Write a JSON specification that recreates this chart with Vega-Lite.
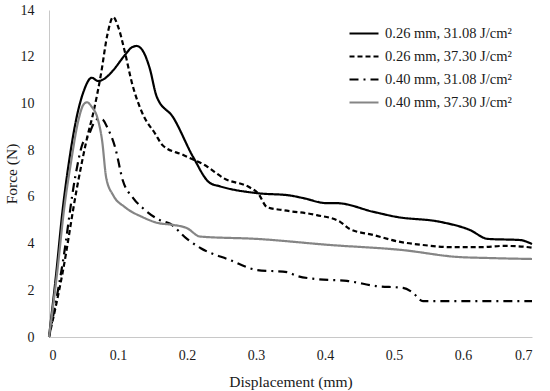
{
  "$schema": "https://vega.github.io/schema/vega-lite/v6.json",
  "width": 483,
  "height": 327,
  "autosize": {"type": "none"},
  "padding": {"left": 49, "top": 10, "right": 18, "bottom": 54},
  "background": "white",
  "config": {
    "view": {"stroke": null},
    "font": "Liberation Serif",
    "axis": {"grid": false, "ticks": false, "domainColor": "#c8c8c8", "domainWidth": 1, "labelFont": "Liberation Serif", "titleFont": "Liberation Serif", "labelColor": "#1a1a1a", "titleColor": "#1a1a1a", "labelFontSize": 14, "titleFontSize": 15.5, "titleFontWeight": "normal"}
  },
  "data": {
    "values": [
      {"s": "0.26 mm, 31.08 J/cm²", "d": 0, "F": 0},
      {"s": "0.26 mm, 31.08 J/cm²", "d": 0.01, "F": 2.6},
      {"s": "0.26 mm, 31.08 J/cm²", "d": 0.02, "F": 5.5},
      {"s": "0.26 mm, 31.08 J/cm²", "d": 0.03, "F": 7.7},
      {"s": "0.26 mm, 31.08 J/cm²", "d": 0.04, "F": 9.4},
      {"s": "0.26 mm, 31.08 J/cm²", "d": 0.05, "F": 10.5},
      {"s": "0.26 mm, 31.08 J/cm²", "d": 0.062, "F": 11.1},
      {"s": "0.26 mm, 31.08 J/cm²", "d": 0.071, "F": 10.96},
      {"s": "0.26 mm, 31.08 J/cm²", "d": 0.08, "F": 11.05},
      {"s": "0.26 mm, 31.08 J/cm²", "d": 0.091, "F": 11.35},
      {"s": "0.26 mm, 31.08 J/cm²", "d": 0.11, "F": 12.07},
      {"s": "0.26 mm, 31.08 J/cm²", "d": 0.12, "F": 12.4},
      {"s": "0.26 mm, 31.08 J/cm²", "d": 0.127, "F": 12.46},
      {"s": "0.26 mm, 31.08 J/cm²", "d": 0.137, "F": 12.2},
      {"s": "0.26 mm, 31.08 J/cm²", "d": 0.146, "F": 11.5},
      {"s": "0.26 mm, 31.08 J/cm²", "d": 0.156, "F": 10.3},
      {"s": "0.26 mm, 31.08 J/cm²", "d": 0.18, "F": 9.4},
      {"s": "0.26 mm, 31.08 J/cm²", "d": 0.209, "F": 7.7},
      {"s": "0.26 mm, 31.08 J/cm²", "d": 0.233, "F": 6.6},
      {"s": "0.26 mm, 31.08 J/cm²", "d": 0.248, "F": 6.45},
      {"s": "0.26 mm, 31.08 J/cm²", "d": 0.301, "F": 6.16},
      {"s": "0.26 mm, 31.08 J/cm²", "d": 0.349, "F": 6.06},
      {"s": "0.26 mm, 31.08 J/cm²", "d": 0.368, "F": 5.95},
      {"s": "0.26 mm, 31.08 J/cm²", "d": 0.403, "F": 5.73},
      {"s": "0.26 mm, 31.08 J/cm²", "d": 0.417, "F": 5.73},
      {"s": "0.26 mm, 31.08 J/cm²", "d": 0.47, "F": 5.36},
      {"s": "0.26 mm, 31.08 J/cm²", "d": 0.504, "F": 5.14},
      {"s": "0.26 mm, 31.08 J/cm²", "d": 0.567, "F": 4.93},
      {"s": "0.26 mm, 31.08 J/cm²", "d": 0.61, "F": 4.58},
      {"s": "0.26 mm, 31.08 J/cm²", "d": 0.636, "F": 4.2},
      {"s": "0.26 mm, 31.08 J/cm²", "d": 0.683, "F": 4.15},
      {"s": "0.26 mm, 31.08 J/cm²", "d": 0.7, "F": 3.98},

      {"s": "0.26 mm, 37.30 J/cm²", "d": 0, "F": 0},
      {"s": "0.26 mm, 37.30 J/cm²", "d": 0.02, "F": 2.8},
      {"s": "0.26 mm, 37.30 J/cm²", "d": 0.04, "F": 6.3},
      {"s": "0.26 mm, 37.30 J/cm²", "d": 0.055, "F": 8.5},
      {"s": "0.26 mm, 37.30 J/cm²", "d": 0.065, "F": 9.7},
      {"s": "0.26 mm, 37.30 J/cm²", "d": 0.075, "F": 11.2},
      {"s": "0.26 mm, 37.30 J/cm²", "d": 0.085, "F": 13.0},
      {"s": "0.26 mm, 37.30 J/cm²", "d": 0.093, "F": 13.7},
      {"s": "0.26 mm, 37.30 J/cm²", "d": 0.1, "F": 13.3},
      {"s": "0.26 mm, 37.30 J/cm²", "d": 0.11, "F": 12.2},
      {"s": "0.26 mm, 37.30 J/cm²", "d": 0.12, "F": 10.9},
      {"s": "0.26 mm, 37.30 J/cm²", "d": 0.135, "F": 9.6},
      {"s": "0.26 mm, 37.30 J/cm²", "d": 0.154, "F": 8.7},
      {"s": "0.26 mm, 37.30 J/cm²", "d": 0.165, "F": 8.2},
      {"s": "0.26 mm, 37.30 J/cm²", "d": 0.194, "F": 7.8},
      {"s": "0.26 mm, 37.30 J/cm²", "d": 0.229, "F": 7.3},
      {"s": "0.26 mm, 37.30 J/cm²", "d": 0.253, "F": 6.8},
      {"s": "0.26 mm, 37.30 J/cm²", "d": 0.291, "F": 6.4},
      {"s": "0.26 mm, 37.30 J/cm²", "d": 0.303, "F": 6.15},
      {"s": "0.26 mm, 37.30 J/cm²", "d": 0.316, "F": 5.56},
      {"s": "0.26 mm, 37.30 J/cm²", "d": 0.339, "F": 5.43},
      {"s": "0.26 mm, 37.30 J/cm²", "d": 0.388, "F": 5.22},
      {"s": "0.26 mm, 37.30 J/cm²", "d": 0.422, "F": 4.93},
      {"s": "0.26 mm, 37.30 J/cm²", "d": 0.436, "F": 4.62},
      {"s": "0.26 mm, 37.30 J/cm²", "d": 0.47, "F": 4.37},
      {"s": "0.26 mm, 37.30 J/cm²", "d": 0.504, "F": 4.1},
      {"s": "0.26 mm, 37.30 J/cm²", "d": 0.542, "F": 3.94},
      {"s": "0.26 mm, 37.30 J/cm²", "d": 0.581, "F": 3.85},
      {"s": "0.26 mm, 37.30 J/cm²", "d": 0.629, "F": 3.85},
      {"s": "0.26 mm, 37.30 J/cm²", "d": 0.658, "F": 3.9},
      {"s": "0.26 mm, 37.30 J/cm²", "d": 0.69, "F": 3.86},
      {"s": "0.26 mm, 37.30 J/cm²", "d": 0.7, "F": 3.82},

      {"s": "0.40 mm, 31.08 J/cm²", "d": 0, "F": 0},
      {"s": "0.40 mm, 31.08 J/cm²", "d": 0.02, "F": 3.2},
      {"s": "0.40 mm, 31.08 J/cm²", "d": 0.038, "F": 6.85},
      {"s": "0.40 mm, 31.08 J/cm²", "d": 0.049, "F": 8.3},
      {"s": "0.40 mm, 31.08 J/cm²", "d": 0.057, "F": 8.6},
      {"s": "0.40 mm, 31.08 J/cm²", "d": 0.064, "F": 9.1},
      {"s": "0.40 mm, 31.08 J/cm²", "d": 0.072, "F": 9.35},
      {"s": "0.40 mm, 31.08 J/cm²", "d": 0.078, "F": 9.3},
      {"s": "0.40 mm, 31.08 J/cm²", "d": 0.084, "F": 9.0},
      {"s": "0.40 mm, 31.08 J/cm²", "d": 0.096, "F": 8.1},
      {"s": "0.40 mm, 31.08 J/cm²", "d": 0.107, "F": 6.7},
      {"s": "0.40 mm, 31.08 J/cm²", "d": 0.122, "F": 5.95},
      {"s": "0.40 mm, 31.08 J/cm²", "d": 0.139, "F": 5.44},
      {"s": "0.40 mm, 31.08 J/cm²", "d": 0.161, "F": 5.0},
      {"s": "0.40 mm, 31.08 J/cm²", "d": 0.175, "F": 4.86},
      {"s": "0.40 mm, 31.08 J/cm²", "d": 0.2, "F": 4.2},
      {"s": "0.40 mm, 31.08 J/cm²", "d": 0.22, "F": 3.8},
      {"s": "0.40 mm, 31.08 J/cm²", "d": 0.262, "F": 3.3},
      {"s": "0.40 mm, 31.08 J/cm²", "d": 0.301, "F": 2.87},
      {"s": "0.40 mm, 31.08 J/cm²", "d": 0.345, "F": 2.78},
      {"s": "0.40 mm, 31.08 J/cm²", "d": 0.359, "F": 2.62},
      {"s": "0.40 mm, 31.08 J/cm²", "d": 0.388, "F": 2.48},
      {"s": "0.40 mm, 31.08 J/cm²", "d": 0.432, "F": 2.4},
      {"s": "0.40 mm, 31.08 J/cm²", "d": 0.475, "F": 2.18},
      {"s": "0.40 mm, 31.08 J/cm²", "d": 0.513, "F": 2.1},
      {"s": "0.40 mm, 31.08 J/cm²", "d": 0.526, "F": 1.93},
      {"s": "0.40 mm, 31.08 J/cm²", "d": 0.542, "F": 1.54},
      {"s": "0.40 mm, 31.08 J/cm²", "d": 0.6, "F": 1.54},
      {"s": "0.40 mm, 31.08 J/cm²", "d": 0.7, "F": 1.54},

      {"s": "0.40 mm, 37.30 J/cm²", "d": 0, "F": 0},
      {"s": "0.40 mm, 37.30 J/cm²", "d": 0.012, "F": 2.8},
      {"s": "0.40 mm, 37.30 J/cm²", "d": 0.022, "F": 5.5},
      {"s": "0.40 mm, 37.30 J/cm²", "d": 0.032, "F": 7.5},
      {"s": "0.40 mm, 37.30 J/cm²", "d": 0.042, "F": 9.2},
      {"s": "0.40 mm, 37.30 J/cm²", "d": 0.05, "F": 9.95},
      {"s": "0.40 mm, 37.30 J/cm²", "d": 0.055, "F": 10.05},
      {"s": "0.40 mm, 37.30 J/cm²", "d": 0.062, "F": 9.85},
      {"s": "0.40 mm, 37.30 J/cm²", "d": 0.07, "F": 9.4},
      {"s": "0.40 mm, 37.30 J/cm²", "d": 0.077, "F": 8.4},
      {"s": "0.40 mm, 37.30 J/cm²", "d": 0.083, "F": 6.8},
      {"s": "0.40 mm, 37.30 J/cm²", "d": 0.093, "F": 6.07},
      {"s": "0.40 mm, 37.30 J/cm²", "d": 0.11, "F": 5.56},
      {"s": "0.40 mm, 37.30 J/cm²", "d": 0.135, "F": 5.14},
      {"s": "0.40 mm, 37.30 J/cm²", "d": 0.158, "F": 4.88},
      {"s": "0.40 mm, 37.30 J/cm²", "d": 0.18, "F": 4.8},
      {"s": "0.40 mm, 37.30 J/cm²", "d": 0.2, "F": 4.66},
      {"s": "0.40 mm, 37.30 J/cm²", "d": 0.219, "F": 4.3},
      {"s": "0.40 mm, 37.30 J/cm²", "d": 0.301, "F": 4.2},
      {"s": "0.40 mm, 37.30 J/cm²", "d": 0.407, "F": 3.94},
      {"s": "0.40 mm, 37.30 J/cm²", "d": 0.513, "F": 3.72},
      {"s": "0.40 mm, 37.30 J/cm²", "d": 0.591, "F": 3.43},
      {"s": "0.40 mm, 37.30 J/cm²", "d": 0.639, "F": 3.38},
      {"s": "0.40 mm, 37.30 J/cm²", "d": 0.7, "F": 3.34}
    ]
  },
  "mark": {"type": "line", "interpolate": "monotone", "strokeWidth": 2.2},
  "encoding": {
    "x": {"field": "d", "type": "quantitative", "scale": {"domain": [0, 0.7], "nice": false},
      "axis": {"title": "Displacement (mm)", "values": [0, 0.1, 0.2, 0.3, 0.4, 0.5, 0.6, 0.7], "labelPadding": 11, "titleY": 49, "titleBaseline": "alphabetic", "format": ".1~f"}},
    "y": {"field": "F", "type": "quantitative", "scale": {"domain": [0, 14], "nice": false},
      "axis": {"title": "Force (N)", "values": [0, 2, 4, 6, 8, 10, 12, 14], "labelPadding": 15, "titleX": -33, "titleY": 163.5, "titleAngle": -90, "titleBaseline": "alphabetic", "titleAlign": "center"}},
    "color": {"field": "s", "type": "nominal",
      "scale": {"domain": ["0.26 mm, 31.08 J/cm²", "0.26 mm, 37.30 J/cm²", "0.40 mm, 31.08 J/cm²", "0.40 mm, 37.30 J/cm²"], "range": ["#000000", "#000000", "#000000", "#858585"]},
      "legend": {"title": null, "orient": "none", "legendX": 299, "legendY": 13, "symbolType": "stroke", "symbolSize": 841, "symbolStrokeWidth": 2.4, "clipHeight": 21, "rowPadding": 2, "labelOffset": 5, "labelFontSize": 14.5, "labelFont": "Liberation Serif", "labelColor": "#1a1a1a", "padding": 0, "labelLimit": 300}},
    "strokeDash": {"field": "s", "type": "nominal",
      "scale": {"domain": ["0.26 mm, 31.08 J/cm²", "0.26 mm, 37.30 J/cm²", "0.40 mm, 31.08 J/cm²", "0.40 mm, 37.30 J/cm²"], "range": [[1, 0], [5, 3], [9, 5, 2, 5], [1, 0]]},
      "legend": null},
    "strokeWidth": {"field": "s", "type": "nominal",
      "scale": {"domain": ["0.26 mm, 31.08 J/cm²", "0.26 mm, 37.30 J/cm²", "0.40 mm, 31.08 J/cm²", "0.40 mm, 37.30 J/cm²"], "range": [2.2, 2.2, 2.2, 2.8]},
      "legend": null}
  }
}
